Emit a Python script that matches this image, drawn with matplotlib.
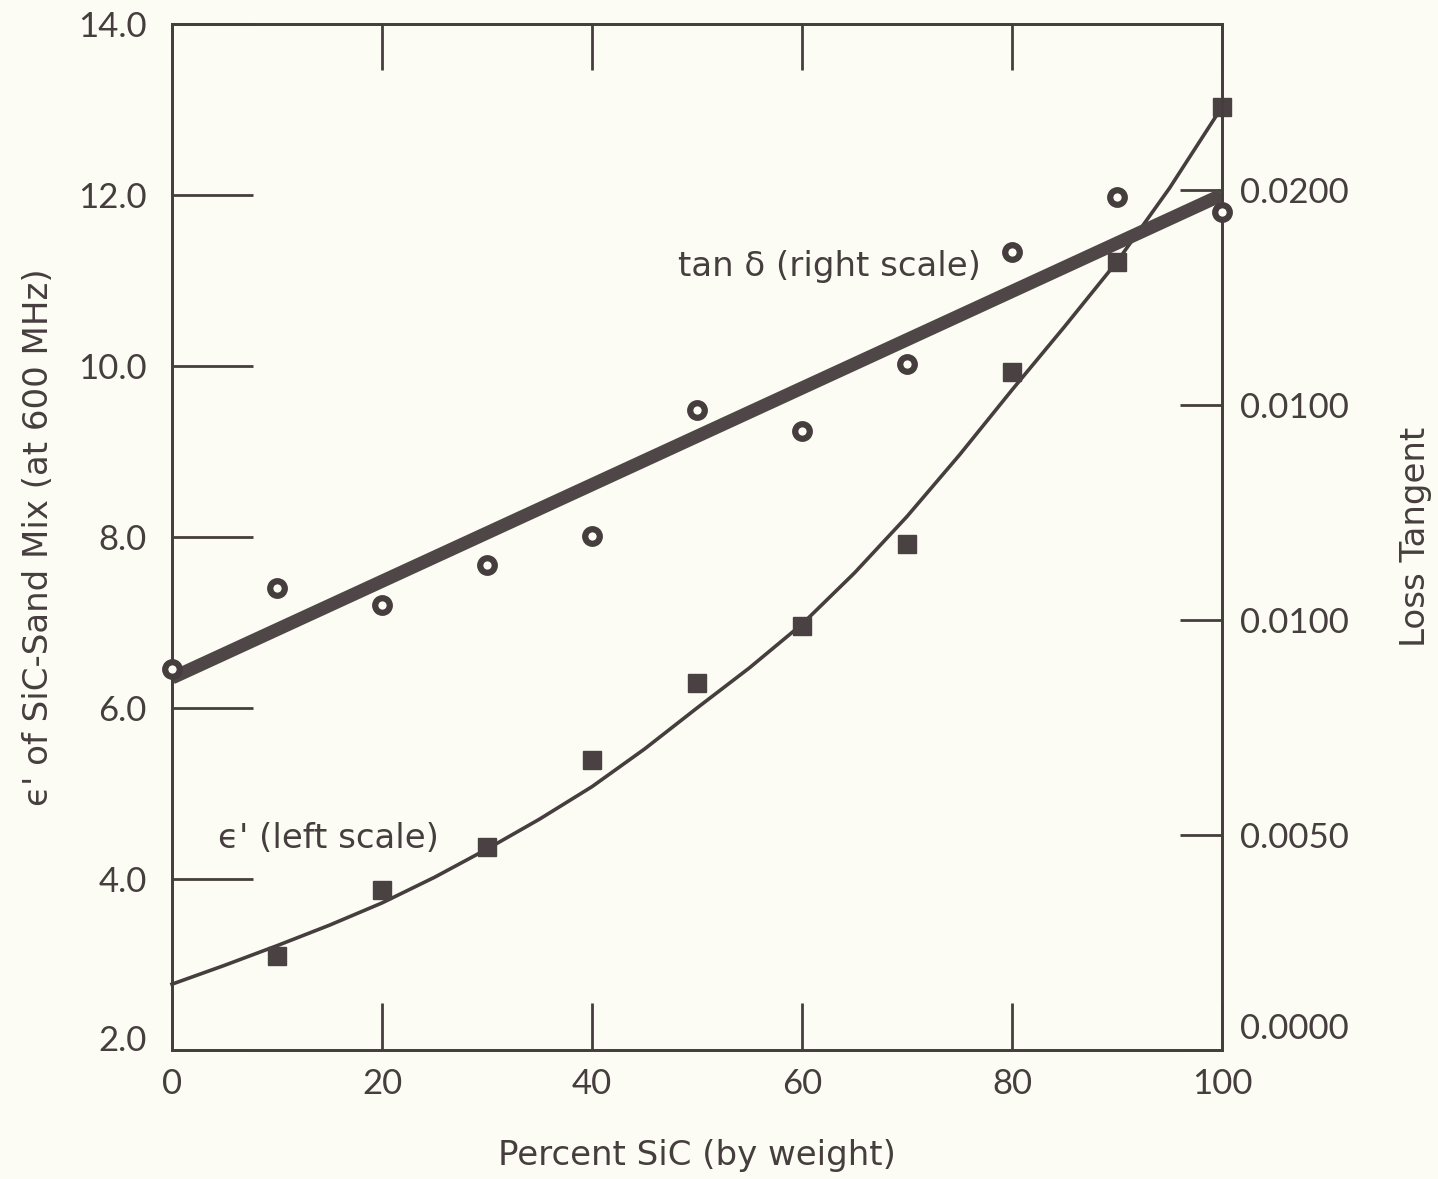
import numpy as np
import matplotlib.pyplot as plt
from matplotlib.transforms import ScaledTranslation

plt.rcParams['font.family'] = ['Lato', 'DejaVu Sans']
LABEL_FONT = ['DejaVu Sans']

# measured points
pct = [0, 10, 20, 30, 40, 50, 60, 70, 80, 90, 100]
eps_pts = [None, 3.10, 3.87, 4.37, 5.39, 6.29, 6.96, 7.92, 9.93, 11.22, 13.03]
tan_pts = [0.00886, 0.01074, 0.01035, 0.01128, 0.01195, 0.01487,
           0.01439, 0.01594, 0.01854, 0.01984, 0.01947]

# smooth curve drawn through the permittivity data
curve_x = [0, 5, 10, 15, 20, 25, 30, 35, 40, 45, 50,
           55, 60, 65, 70, 75, 80, 85, 90, 95, 100]
curve_eps = [2.77, 2.99, 3.22, 3.46, 3.72, 4.02, 4.35, 4.70, 5.08, 5.52, 6.00,
             6.47, 6.98, 7.58, 8.24, 8.96, 9.72, 10.46, 11.22, 12.08, 13.03]

# straight fit for the loss tangent
fit_x = [0, 100]
fit_tan = [0.00865, 0.01988]

left_ticks = [2, 4, 6, 8, 10, 12, 14]
left_labels = ['2.0', '4.0', '6.0', '8.0', '10.0', '12.0', '14.0']
right_ticks = [0.0, 0.005, 0.010, 0.015, 0.020]
right_labels = ['0.0000', '0.0050', '0.0100', '0.0100', '0.0200']
x_ticks = [0, 20, 40, 60, 80, 100]

ink = '#463e3e'
bg = '#fcfcf4'

fig = plt.figure(figsize=(14.38, 11.79), dpi=100, facecolor=bg)
ax = fig.add_axes([172/1438, 1 - 1050/1179, 1050/1438, 1026/1179])
ax.set_facecolor(bg)
ax2 = ax.twinx()

ax.set_xlim(0, 100)
ax.set_ylim(2, 14)
ax2.set_ylim(0, 0.02385)

for a in (ax, ax2):
    for s in a.spines.values():
        s.set_color(ink)
        s.set_linewidth(2)

# loss tangent: thick line + open circles
ax2.plot(fit_x, fit_tan, color='#4f4747', lw=9.5, solid_capstyle='butt', zorder=2)
ax2.plot(pct, tan_pts, ls='none', marker='o', ms=10.5, mfc=bg, mec=ink,
         mew=4.5, clip_on=False, zorder=4)

# permittivity: thin curve + filled squares
ex = [p for p, v in zip(pct, eps_pts) if v is not None]
ev = [v for v in eps_pts if v is not None]
ax.plot(curve_x, curve_eps, color=ink, lw=2.6, zorder=3, clip_on=False,
        solid_joinstyle='round')
ax.plot(ex, ev, ls='none', marker='s', ms=12.5, color='#4a4242',
        clip_on=False, zorder=4)

# ticks
ax.set_xticks(x_ticks)
ax.set_xticklabels([str(t) for t in x_ticks])
ax.tick_params(axis='x', which='major', direction='in', length=34, width=2,
               color=ink, top=True, pad=13, labelsize=25, labelcolor=ink)
ax.set_yticks(left_ticks)
ax.set_yticklabels(left_labels)
ax.tick_params(axis='y', direction='in', length=58, width=2, color=ink,
               right=False, pad=18, labelsize=25, labelcolor=ink)
ax2.set_yticks(right_ticks)
ax2.set_yticklabels(right_labels)
ax2.tick_params(axis='y', direction='in', length=30, width=2, color=ink,
                pad=13, labelsize=25, labelcolor=ink)

# top ticks are shorter
for t in ax.xaxis.get_major_ticks():
    t.tick2line.set_markersize(33)

# nudge the bottom labels up off the lower spine
lab = ax2.get_yticklabels()[0]
lab.set_transform(lab.get_transform() + ScaledTranslation(0, 0.24, fig.dpi_scale_trans))
lab = ax.get_yticklabels()[0]
lab.set_transform(lab.get_transform() + ScaledTranslation(0, 0.12, fig.dpi_scale_trans))

ax.set_xlabel('Percent SiC (by weight)', fontsize=24.5, color=ink,
              labelpad=28, family=LABEL_FONT)
ax.set_ylabel("ϵ' of SiC-Sand Mix (at 600 MHz)", fontsize=24.5, color=ink,
              labelpad=17, family=LABEL_FONT)
ax2.set_ylabel('Loss Tangent', fontsize=24.5, color=ink, labelpad=36,
               family=LABEL_FONT)

ax.text(48.2, 11.16, 'tan δ (right scale)', fontsize=24.5, color=ink,
        va='center', ha='left', family=LABEL_FONT)
ax.text(4.4, 4.47, "ϵ' (left scale)", fontsize=24.5, color=ink,
        va='center', ha='left', family=LABEL_FONT)

fig.savefig('out.png', dpi=100, facecolor=bg)
